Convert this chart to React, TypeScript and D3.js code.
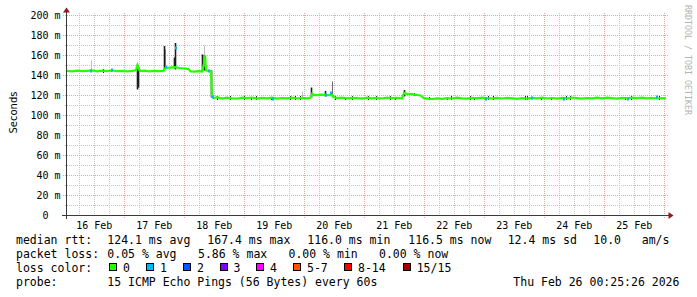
import React from 'react';
import * as d3 from 'd3';

const W = 697;
const H = 297;
const START = Date.UTC(2026, 1, 16, 1, 5);
const END = Date.UTC(2026, 1, 26, 1, 5);
const HOUR = 3600e3;

const yTicks = [0, 20, 40, 60, 80, 100, 120, 140, 160, 180, 200];
const dayLabels = ['16 Feb', '17 Feb', '18 Feb', '19 Feb', '20 Feb', '21 Feb', '22 Feb', '23 Feb', '24 Feb', '25 Feb'];

// median rtt (ms) at hours since START
const medianHours = [
  0, 2, 4, 6, 8, 10, 12, 14, 16, 18, 20, 22, 24, 26, 27.5, 28.2, 28.8, 29.6, 31, 33, 35, 37, 38.6,
  39.4, 41, 43, 45, 47, 48.6, 49.4, 51, 52.5, 54, 54.8, 55.2, 55.6, 56.8, 57.6, 58.0, 58.6,
  60, 62, 64, 66, 68, 70, 72, 74, 76, 78, 80, 82, 84, 86, 88, 90, 92, 94, 96, 97.6, 98.1, 98.8,
  100, 102, 104, 106, 106.6, 108, 110, 112, 114, 116, 118, 120, 122, 124, 126, 128, 130, 132, 134,
  134.8, 136, 138, 140, 141.6, 142.6, 144, 146, 148, 150, 152, 154, 156, 158, 160, 162, 164, 166,
  168, 170, 172, 174, 176, 178, 180, 182, 184, 186, 188, 190, 192, 194, 196, 198, 200, 202, 204,
  206, 208, 210, 212, 214, 216, 218, 220, 222, 224, 226, 228, 230, 232, 234, 236, 238, 239.6,
];
const medianMs = [
  144.6, 144.1, 144.9, 144.3, 144.7, 145.2, 144.2, 144.8, 144.4, 145.0, 144.3, 144.7, 144.1, 144.6, 145.2, 150.5, 146.0, 144.5, 144.9, 144.2, 144.7, 144.3, 144.6,
  147.6, 147.9, 148.4, 147.5, 147.0, 146.4, 144.0, 143.8, 144.3, 143.9, 152.0, 160.0, 145.0, 144.6, 144.3, 119.5, 117.4,
  118.3, 116.9, 117.8, 117.2, 116.8, 117.9, 117.3, 118.0, 116.9, 117.6, 117.1, 117.8, 116.8, 117.5, 117.1, 117.8, 117.0, 117.6, 117.2, 117.9, 121.8, 120.6,
  120.3, 120.9, 120.4, 120.6, 118.4, 117.4, 117.9, 117.1, 117.7, 117.3, 116.9, 117.8, 117.2, 117.6, 117.0, 117.8, 117.3, 117.6, 117.2,
  122.6, 121.6, 121.3, 120.7, 119.8, 117.6, 116.8, 116.5, 117.1, 116.6, 117.4, 117.0, 117.8, 117.2, 116.8, 117.6, 117.1, 117.9,
  117.3, 116.9, 117.6, 117.0, 117.7, 117.2, 116.6, 117.4, 116.9, 117.6, 117.2, 117.9, 117.0, 117.5, 116.9, 117.6, 117.2, 118.0, 117.4,
  116.8, 117.5, 117.1, 117.8, 117.2, 117.9, 117.3, 116.9, 117.7, 117.2, 117.9, 117.4, 117.8, 117.1, 117.6, 117.0, 117.5, 117.2,
];

// smoke spikes (spread of the 15 pings): hours, low, high, density (1 light .. 3 dense)
const spikeHours = [9.6, 28.3, 28.7, 38.9, 39.4, 43.0, 43.5, 54.1, 54.9, 54.9, 57.6, 94.3, 97.9, 103.5, 106.1, 134.8];
const spikeLow = [144.5, 126, 128, 146, 147, 147, 146, 144, 160, 145, 118, 117, 118, 119, 118, 119];
const spikeHigh = [155, 151, 148, 169.5, 166, 158, 172.5, 161, 170, 160, 145, 124, 128, 124.5, 134, 125.5];
const spikeDensity = [1, 3, 3, 3, 2, 3, 3, 3, 1, 3, 3, 1, 3, 3, 2, 3];

// small smoke flecks close to the median
const fleckHours = [14.4, 17.6, 60, 65.2, 70.8, 73.9, 75.9, 81.9, 89.2, 91.2, 93.2, 107.2, 111.2, 114, 120.4, 123.6, 129.2, 131.2, 139.2, 145.2, 152, 153.6, 161.2, 162.8, 168.4, 170.4, 183.2, 184.3, 189.9, 193.6, 199.6, 201.2, 223.2, 225.9, 237.2];
const fleckLow = [143, 143.5, 116, 115.5, 116, 115.8, 116, 115.6, 115.8, 116, 115.5, 115.8, 115.6, 116, 115.6, 115.8, 116, 115.6, 119.5, 115.2, 115.3, 115.6, 115.8, 115.4, 115.6, 115.8, 115.8, 116, 115.5, 115.4, 115.6, 115.9, 115.5, 115.6, 116];
const fleckHigh = [146.5, 147, 119.5, 119.2, 119.6, 119, 119.4, 119, 119.3, 119.5, 119.2, 119.4, 119, 119.3, 119.2, 119.4, 119.5, 119, 123, 118.6, 118.8, 119.3, 119.2, 119, 119.5, 119.3, 119.4, 119.6, 119, 118.8, 119.2, 119.5, 119, 119.4, 119.8];

// median points that saw 1/15 loss
const lossHours = [9.5, 18, 39.6, 43.5, 56.9, 58.4, 82.4, 103.4, 105.6, 167.6, 186, 198.8, 224.3, 235.9];
const lossMs = [144.5, 145.5, 149, 167.4, 145, 119, 116.7, 120.5, 122.5, 116.7, 117.3, 116.8, 116.5, 118.2];

const lossLabels = ['0', '1', '2', '3', '4', '5-7', '8-14', '15/15'];
const lossColors = ['#26ff00', '#00b8ff', '#0059ff', '#7e00ff', '#ff00ff', '#ff5500', '#ff0000', '#a10000'];

const rttLine = ['median rtt:', '124.1 ms avg', '167.4 ms max', '116.0 ms min', '116.5 ms now', '12.4 ms sd', '10.0   am/s'];
const lossLine = ['packet loss:', '0.05 % avg', '5.86 % max', '0.00 % min', '0.00 % now'];
const probeLine = ['probe:', '15 ICMP Echo Pings (56 Bytes) every 60s', 'Thu Feb 26 00:25:26 2026'];

const rttX = [16, 107.3, 207.3, 307.3, 408.3, 507.7, 593.3];
const lossX = [16, 107.3, 198, 288.5, 379];
const probeX = [16, 107.3, 513.3];
const boxX = [109, 146, 183, 219.5, 256, 293, 344, 402.7];

const MONO = "'DejaVu Sans Mono', monospace";
const SANS = "'DejaVu Sans', sans-serif";

export default function App() {
  const x = d3.scaleUtc().domain([new Date(START), new Date(END)]).range([67, 667]);
  const y = d3.scaleLinear().domain([0, 200]).range([215.5, 15.5]);
  const hx = (h: number) => x(new Date(START + h * HOUR));
  const px = (v: number) => Math.round(v - 0.5) + 0.5;

  const minorY = d3.range(10, 200, 20);
  const sixHours = x.ticks(d3.utcHour.every(6) as any);
  const noons = d3.utcDay
    .range(d3.utcDay.floor(new Date(START)), new Date(END))
    .map((d: Date) => new Date(+d + 12 * HOUR))
    .filter((d: Date) => +d > START && +d < END);

  const line = d3.line<number>().x((_, i) => hx(medianHours[i])).y((v) => y(v));
  const medianPath = line(medianMs) || '';

  const shade = (d: number) => (d === 3 ? '#1e1e1e' : d === 2 ? '#707070' : '#bdbdbd');

  return (
    <svg width={W} height={H} style={{ position: 'absolute', left: 0, top: 0, background: '#fff' }} xmlns="http://www.w3.org/2000/svg">
      <rect x={0} y={0} width={W} height={H} fill="#fff" />
      {minorY.map((v) => (
        <line key={'mh' + v} x1={65} x2={668} y1={px(y(v))} y2={px(y(v))} stroke="#c6c6c6" strokeDasharray="1 1" shapeRendering="crispEdges" />
      ))}
      {sixHours.map((d: Date) => {
        const major = d.getUTCHours() === 0;
        return (
          <line key={'v' + +d} x1={px(x(d))} x2={px(x(d))} y1={13} y2={major ? 218 : 217} stroke={major ? '#eda3a3' : '#c6c6c6'} strokeDasharray="1 1" shapeRendering="crispEdges" />
        );
      })}
      {yTicks.slice(1).map((v) => (
        <line key={'Mh' + v} x1={63} x2={668} y1={px(y(v))} y2={px(y(v))} stroke="#eda3a3" strokeDasharray="1 1" shapeRendering="crispEdges" />
      ))}

      {fleckHours.map((h, i) => (
        <line key={'f' + i} x1={px(hx(h))} x2={px(hx(h))} y1={y(fleckLow[i])} y2={y(fleckHigh[i])} stroke="#262626" strokeWidth={1} shapeRendering="crispEdges" />
      ))}
      {spikeHours.map((h, i) => (
        <line key={'s' + i} x1={px(hx(h))} x2={px(hx(h))} y1={y(spikeLow[i])} y2={y(spikeHigh[i])} stroke={shade(spikeDensity[i])} strokeWidth={spikeDensity[i] === 3 ? 1.6 : 1} />
      ))}

      <path d={medianPath} fill="none" stroke="#26ff00" strokeWidth={2.2} strokeLinejoin="miter" />

      {lossHours.map((h, i) => (
        <rect key={'l' + i} x={Math.round(hx(h)) - 1} y={Math.round(y(lossMs[i])) - 1.5} width={2} height={3} fill="#00b8ff" />
      ))}

      <line x1={66.5} x2={66.5} y1={11} y2={219} stroke="#3a3a3a" shapeRendering="crispEdges" />
      <line x1={62} x2={669} y1={215.5} y2={215.5} stroke="#3a3a3a" shapeRendering="crispEdges" />
      <path d="M63,12.5 L66.5,7.5 L70,12.5 Z" fill="#8f1d1d" />
      <path d="M668.5,212 L673.5,215.5 L668.5,219 Z" fill="#8f1d1d" />

      {yTicks.map((v) => (
        <g key={'yl' + v} fontFamily={MONO} fontSize={10} fill="#000">
          <text x={48.5} y={px(y(v)) + 3.5} textAnchor="end">{String(v)}</text>
          {v !== 0 && <text x={54.5} y={px(y(v)) + 3.5}>m</text>}
        </g>
      ))}
      {noons.map((d: Date, i: number) => (
        <text key={'xl' + i} x={x(d)} y={229} textAnchor="middle" fontFamily={MONO} fontSize={10} fill="#000">{dayLabels[i]}</text>
      ))}

      <text transform="translate(16.5,112.5) rotate(-90)" textAnchor="middle" fontFamily={SANS} fontSize={10} fill="#000">Seconds</text>

      <text transform="translate(684.5,5) rotate(90)" fontFamily={MONO} fontSize={8.2} fill="#b4b4b4" textLength={110} lengthAdjust="spacingAndGlyphs">RRDTOOL / TOBI OETIKER</text>

      <g fontFamily={MONO} fontSize={11.5} fill="#000" style={{ whiteSpace: 'pre' }}>
        {rttLine.map((t, i) => (
          <text key={'r' + i} x={rttX[i]} y={244} xmlSpace="preserve">{t}</text>
        ))}
        {lossLine.map((t, i) => (
          <text key={'p' + i} x={lossX[i]} y={258} xmlSpace="preserve">{t}</text>
        ))}
        <text x={16} y={272}>loss color:</text>
        {lossLabels.map((t, i) => (
          <g key={'b' + i}>
            <rect x={boxX[i] + 0.5} y={263.5} width={7} height={7} fill={lossColors[i]} stroke="#000" strokeWidth={1} shapeRendering="crispEdges" />
            <text x={boxX[i] + 14} y={272}>{t}</text>
          </g>
        ))}
        {probeLine.map((t, i) => (
          <text key={'q' + i} x={probeX[i]} y={286} xmlSpace="preserve">{t}</text>
        ))}
      </g>
    </svg>
  );
}
